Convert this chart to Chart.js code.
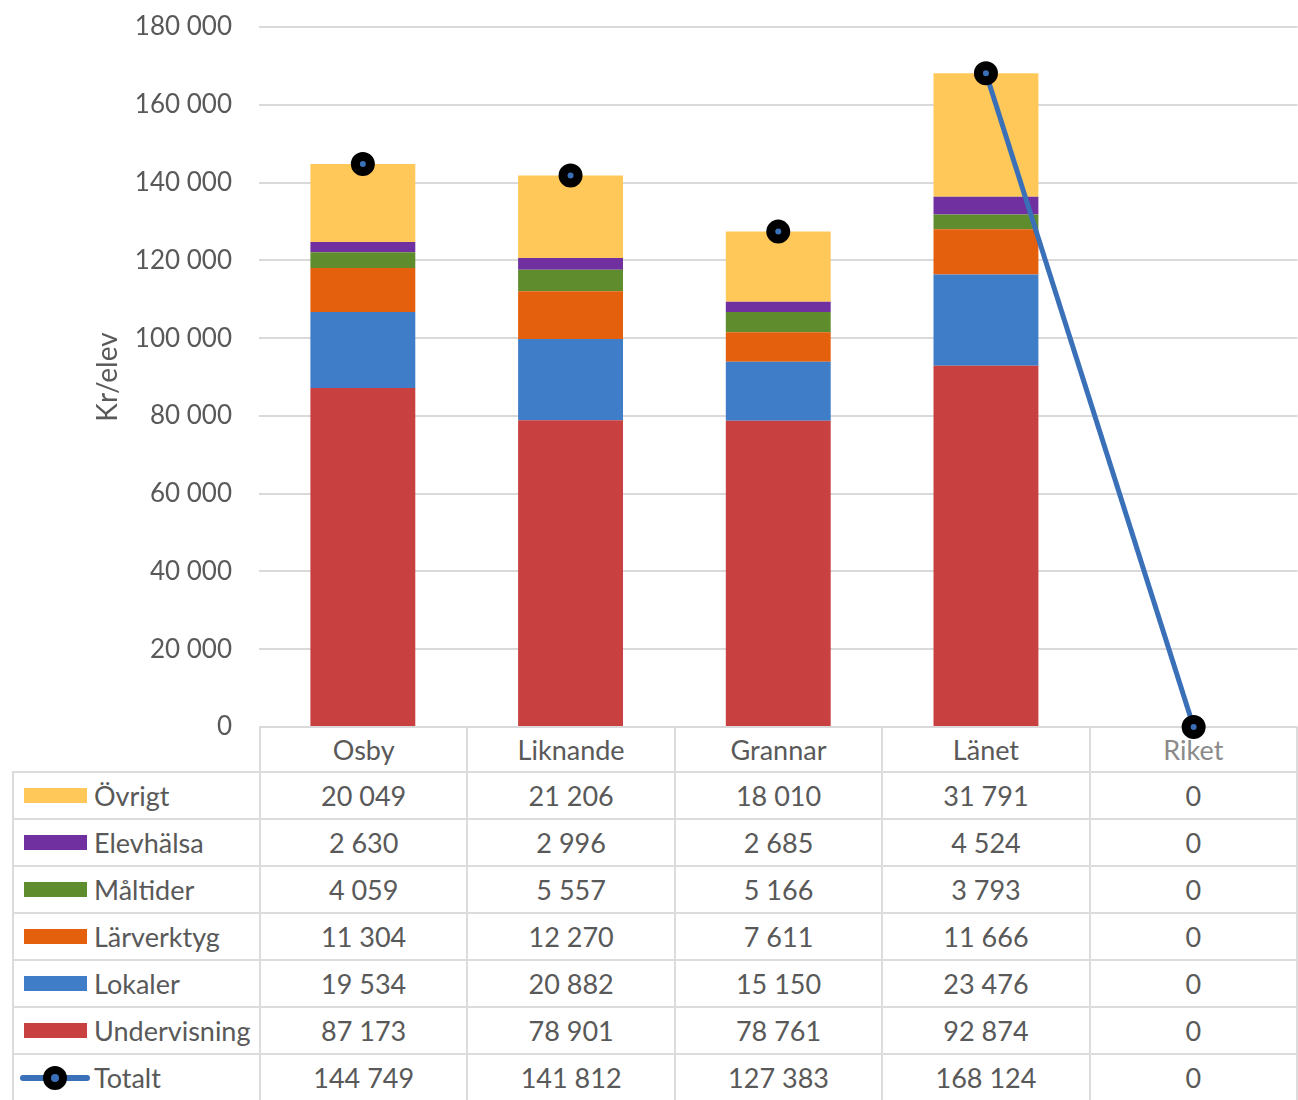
<!DOCTYPE html>
<html>
<head>
<meta charset="utf-8">
<script src="https://cdn.jsdelivr.net/npm/chart.js@4/dist/chart.umd.min.js"></script>
<style>
body{margin:0;background:#fff;font-family:Lato,sans-serif}
#wrap{position:relative;width:1298px;height:1100px;overflow:hidden}
#c{position:absolute;left:0;top:0;z-index:2;pointer-events:none}
#tbl{position:absolute;left:12px;top:727px;border-collapse:collapse;table-layout:fixed;color:#595959;font-size:27px}
#tbl td{padding:0;text-align:center;border:2px solid #dcdcdc;white-space:nowrap}
#tbl tr.head td{height:44px;border-top:none}
#tbl tr.head td.blank{border-left:none;border-top:none}
#tbl tr.row td{height:45px}
#tbl td.lab{text-align:left;position:relative;padding-left:80px}
.sw{position:absolute;left:10px;top:50%;width:63px;height:15px;margin-top:-8px}
.tot{position:absolute;left:6px;top:50%;width:70px;height:6px;margin-top:-3px;background:#3a70b8;border-radius:3px}
.tot:after{content:'';position:absolute;left:23px;top:-9px;width:8px;height:8px;border:8px solid #000;border-radius:50%;background:#3a70b8}
</style>
</head>
<body>
<div id="wrap">
<table id="tbl"></table>
<canvas id="c" width="1314" height="770"></canvas>
</div>
<script>
// data
const categories = ['Osby','Liknande','Grannar','Länet','Riket'];
const ovrigt = [20049, 21206, 18010, 31791, 0];
const elevhalsa = [2630, 2996, 2685, 4524, 0];
const maltider = [4059, 5557, 5166, 3793, 0];
const larverktyg = [11304, 12270, 7611, 11666, 0];
const lokaler = [19534, 20882, 15150, 23476, 0];
const undervisning = [87173, 78901, 78761, 92874, 0];
const totalt = [144749, 141812, 127383, 168124, 0];
const yTicks = [0, 20000, 40000, 60000, 80000, 100000, 120000, 140000, 160000, 180000];

const fmt = n => String(n).replace(/\B(?=(\d{3})+(?!\d))/g, '\u00a0');

// bar series, bottom of stack first
const series = [
  {label:'Undervisning', data:undervisning, color:'#c8403f'},
  {label:'Lokaler', data:lokaler, color:'#3f7dc8'},
  {label:'Lärverktyg', data:larverktyg, color:'#e4600c'},
  {label:'Måltider', data:maltider, color:'#5f8d2e'},
  {label:'Elevhälsa', data:elevhalsa, color:'#7030a0'},
  {label:'Övrigt', data:ovrigt, color:'#ffc859'}
];
const lineBlue = '#3a70b8';

const datasets = series.map(s=>({
  type:'bar', label:s.label, data:s.data, backgroundColor:s.color,
  stack:'bars', order:2, barPercentage:0.505, categoryPercentage:1
}));
datasets.push({
  type:'line', label:'Totalt', data:totalt, stack:'line', order:0,
  borderColor:lineBlue, borderWidth:5, clip:false,
  pointRadius:7.5, pointBorderWidth:9, pointBackgroundColor:lineBlue, pointBorderColor:'#000',
  segment:{borderColor:ctx=> ctx.p0DataIndex===3 ? lineBlue : 'rgba(0,0,0,0)'}
});

new Chart(document.getElementById('c').getContext('2d'),{
  data:{labels:categories, datasets},
  options:{
    responsive:false, animation:false,
    layout:{padding:{top:27,bottom:43,left:0,right:0}},
    plugins:{legend:{display:false}, tooltip:{enabled:false}},
    scales:{
      x:{display:false, stacked:true},
      y:{
        stacked:true, min:0, max:180000,
        afterFit:s=>{s.width=259; s.paddingTop=0; s.paddingBottom=0;},
        afterBuildTicks:s=>{s.ticks=yTicks.map(v=>({value:v}));},
        border:{display:false},
        grid:{color:'#d9d9d9', lineWidth:2, drawTicks:false},
        ticks:{padding:27, color:'#595959', font:{family:'Lato', size:26}, callback:v=>fmt(v)},
        title:{display:true, text:'Kr/elev', color:'#595959', font:{family:'Lato', size:28}, padding:{top:91,bottom:0}}
      }
    }
  }
});

// data table
const tbl = document.getElementById('tbl');
let html = '<colgroup><col style="width:247px">' + categories.map(()=>'<col style="width:207.8px">').join('') + '</colgroup>';
html += '<tr class="head"><td class="blank"></td>' + categories.map((c,i)=>`<td${i===4?' style="color:#8a8a8a"':''}>${c}</td>`).join('') + '</tr>';
series.slice().reverse().forEach(s=>{
  html += `<tr class="row"><td class="lab"><span class="sw" style="background:${s.color}"></span>${s.label}</td>` + s.data.map(v=>`<td>${fmt(v)}</td>`).join('') + '</tr>';
});
html += '<tr class="row"><td class="lab"><span class="tot"></span>Totalt</td>' + totalt.map(v=>`<td>${fmt(v)}</td>`).join('') + '</tr>';
tbl.innerHTML = html;
</script>
</body>
</html>
